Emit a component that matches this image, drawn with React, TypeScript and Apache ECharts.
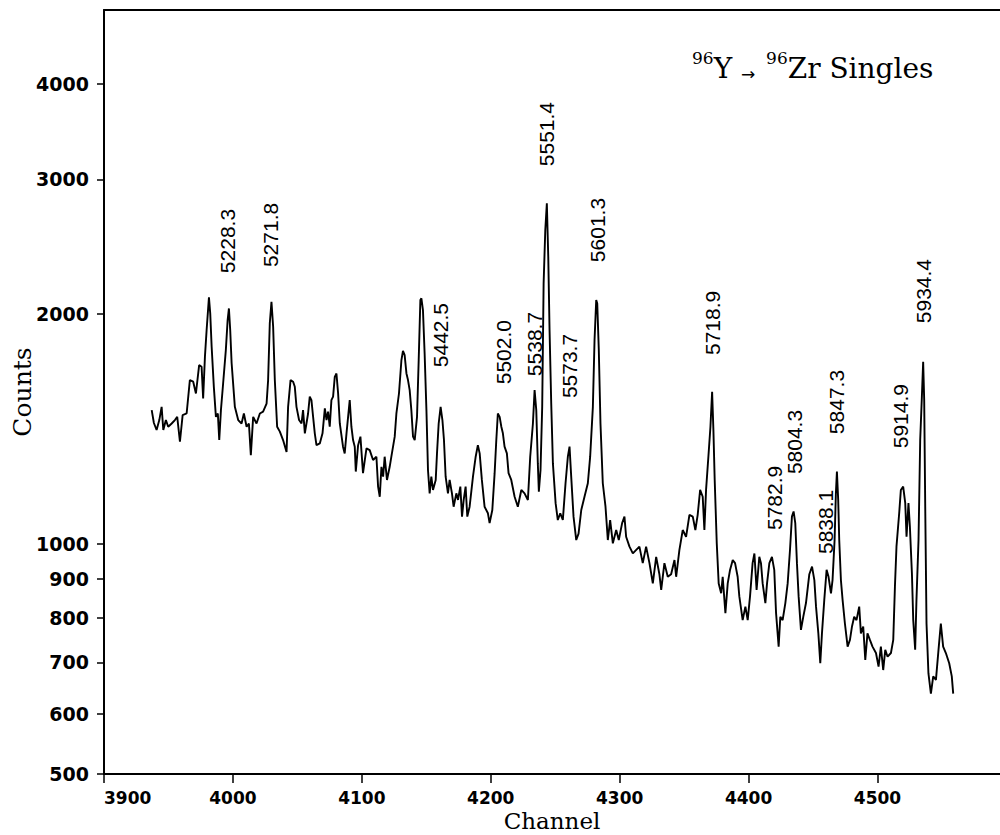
import React, { useEffect, useRef } from 'react';
import * as echarts from 'echarts';

const channels = [
  3937.0, 3938.7, 3940.8, 3942.9, 3944.7, 3946.0, 3948.0, 3949.8, 3952.5, 3955.0, 3956.8, 3958.9, 3961.0, 3964.1,
  3966.6, 3969.2, 3971.3, 3973.8, 3975.7, 3976.9, 3978.3, 3979.6, 3981.4, 3982.4, 3983.5, 3985.2, 3986.8, 3988.3,
  3989.4, 3990.7, 3992.4, 3994.5, 3995.9, 3996.9, 3997.9, 3999.0, 4001.5, 4004.1, 4006.7, 4008.5, 4010.6, 4012.4,
  4013.9, 4015.7, 4018.3, 4020.9, 4023.4, 4026.1, 4027.3, 4028.6, 4029.9, 4031.2, 4032.5, 4034.3, 4036.4, 4038.9,
  4041.6, 4042.8, 4044.7, 4046.7, 4048.0, 4049.3, 4051.3, 4053.2, 4054.4, 4055.8, 4058.3, 4059.6, 4060.9, 4062.2,
  4063.5, 4064.8, 4067.4, 4069.5, 4071.3, 4072.6, 4073.8, 4075.1, 4076.4, 4077.7, 4079.0, 4080.3,
  4081.6, 4082.9, 4085.4, 4086.7, 4088.1, 4090.6, 4091.9, 4093.2, 4094.5, 4095.3, 4097.1, 4098.9, 4100.9, 4102.3,
  4103.6, 4106.1, 4108.7, 4111.3, 4112.6, 4113.9, 4115.2, 4116.5, 4117.7, 4119.5, 4121.6, 4122.9, 4125.5, 4126.8,
  4128.8, 4130.7, 4131.9, 4133.2, 4134.6, 4135.8, 4137.1, 4138.4, 4139.7, 4141.0, 4142.8, 4144.1, 4145.4, 4146.2,
  4147.4, 4148.7, 4150.1, 4151.3, 4152.6, 4153.9, 4155.2, 4157.3, 4158.3, 4159.6, 4161.1, 4162.5, 4163.7, 4165.0,
  4166.8, 4168.1, 4169.9, 4171.2, 4173.3, 4174.6, 4176.4, 4177.7, 4179.0, 4180.5, 4181.8, 4183.6, 4186.2, 4188.3,
  4190.0, 4191.4, 4193.1, 4195.2, 4197.8, 4199.1, 4201.2, 4203.0, 4204.3, 4205.5, 4206.9, 4208.2, 4209.4, 4210.7,
  4212.5, 4213.8, 4215.9, 4218.5, 4221.0, 4223.7, 4226.2, 4228.8,
  4230.6, 4232.7, 4234.0, 4235.3, 4236.5, 4237.3, 4238.6, 4239.9, 4241.0, 4242.3, 4243.5, 4244.6, 4245.6, 4246.9,
  4248.2, 4250.3, 4252.0, 4253.9, 4255.9, 4258.0, 4259.8, 4261.1, 4262.4, 4264.2, 4266.3, 4268.1, 4270.2, 4272.7,
  4275.3, 4277.1, 4279.2, 4280.5, 4281.8, 4282.6, 4283.8, 4285.1, 4286.9, 4289.0, 4290.8, 4292.6, 4294.7, 4297.3,
  4299.3, 4301.9, 4303.7, 4305.0, 4307.6, 4310.2, 4315.3,
  4317.9, 4320.5, 4323.1, 4325.7, 4328.3, 4330.8, 4332.2, 4334.7, 4337.3, 4339.9, 4342.5, 4343.8, 4346.3, 4348.9,
  4351.5, 4354.1, 4356.7, 4358.7, 4360.5, 4362.4, 4364.4, 4365.7, 4367.0, 4368.8, 4370.4, 4371.7, 4372.7, 4373.7,
  4375.3, 4376.8, 4378.7, 4379.9, 4382.0, 4383.8, 4385.6, 4387.7, 4389.5, 4391.5, 4392.8, 4395.4, 4397.5, 4399.3,
  4401.1, 4403.1, 4404.5, 4406.2, 4408.3, 4409.6, 4410.9, 4413.0, 4414.3, 4416.1, 4418.1, 4419.9, 4421.3, 4423.3,
  4424.6, 4426.4, 4428.5, 4430.3, 4432.1, 4433.6, 4434.9, 4436.2, 4437.5, 4438.8, 4440.6, 4442.4, 4444.5,
  4447.1, 4449.2, 4451.0, 4452.3, 4454.1, 4455.6, 4456.9, 4458.7, 4460.5, 4462.0, 4463.9, 4465.1, 4466.7, 4467.7,
  4468.5, 4469.5, 4470.3, 4471.6, 4472.9, 4474.7, 4476.8, 4478.6, 4480.2, 4481.9, 4483.7, 4485.8, 4487.1, 4488.9,
  4490.5, 4492.2, 4494.1, 4496.1, 4498.8, 4500.8, 4502.6, 4504.4, 4506.0, 4507.8, 4510.4, 4512.2, 4513.5, 4514.7,
  4516.8, 4518.1, 4519.9, 4521.5, 4522.5, 4524.0, 4525.1, 4526.7, 4527.7, 4529.2, 4530.2, 4531.8, 4533.1, 4534.4,
  4535.4, 4536.2, 4537.0, 4538.0, 4539.5, 4541.4, 4543.2, 4545.3, 4547.3, 4549.1, 4550.9, 4553.0, 4555.6, 4557.6,
  4558.7,
];

const counts = [
  1497, 1440, 1410, 1453, 1512, 1410, 1453, 1424, 1438, 1453, 1467, 1361, 1475, 1482,
  1639, 1631, 1574, 1715, 1706, 1551, 1759, 1906, 2103, 2004, 1812, 1606, 1467, 1482,
  1368, 1497, 1622, 1794, 1964, 2034, 1906, 1724, 1512, 1453, 1438, 1482, 1424, 1438,
  1307, 1467, 1438, 1482, 1490, 1527, 1639, 1945, 2075, 1925, 1639, 1424, 1403, 1368,
  1320, 1512, 1639, 1631, 1606, 1512, 1453, 1438, 1497, 1396, 1482, 1559, 1543, 1467,
  1396, 1347, 1354, 1396, 1505, 1453, 1490, 1424, 1543, 1559, 1655, 1672,
  1574, 1438, 1341, 1314, 1396, 1543, 1424, 1368, 1341, 1244, 1347, 1382, 1238, 1288,
  1334, 1327, 1288, 1301, 1189, 1153, 1262, 1225, 1301, 1213, 1262, 1301, 1382, 1482,
  1574, 1741, 1790, 1767, 1672, 1639, 1590, 1497, 1382, 1368, 1467, 1741, 2086, 2097,
  2024, 1776, 1497, 1250, 1165, 1225, 1177, 1213, 1314, 1438, 1512, 1453, 1368, 1225,
  1165, 1213, 1165, 1119, 1165, 1142, 1189, 1086, 1142, 1189, 1086, 1119, 1225, 1301,
  1347, 1314, 1213, 1119, 1097, 1065, 1108, 1238, 1368, 1482, 1467, 1424, 1396, 1341,
  1314, 1238, 1213, 1153, 1119, 1177, 1165, 1142,
  1301, 1438, 1590, 1497, 1275, 1171, 1250, 1512, 2194, 2578, 2792, 2377, 1906, 1527,
  1275, 1131, 1075, 1097, 1075, 1201, 1301, 1341, 1225, 1086, 1012, 1032, 1108, 1153,
  1201, 1301, 1512, 1849, 2086, 2065, 1794, 1438, 1201, 1119, 1012, 1075, 1002, 1043,
  1012, 1065, 1086, 1022, 992, 972, 992,
  944, 992, 944, 888, 962, 913, 871, 944, 906, 913, 953, 906, 982, 1043,
  1022, 1092, 1086, 1043, 1092, 1177, 1153, 1043, 1177, 1301, 1424, 1582, 1410, 1213,
  1002, 888, 862, 906, 812, 888, 925, 953, 944, 906, 854, 795, 828, 795,
  854, 944, 972, 871, 962, 944, 888, 837, 888, 944, 962, 925, 812, 734,
  803, 795, 837, 888, 982, 1086, 1103, 1065, 944, 854, 772, 803, 837,
  913, 934, 897, 828, 764, 698, 764, 845, 925, 906, 862, 897, 1012, 1165,
  1244, 1142, 1012, 897, 845, 787, 734, 749, 780, 803, 795, 828, 764, 780,
  705, 764, 749, 734, 720, 691, 734, 684, 727, 712, 720, 749, 879, 992,
  1097, 1177, 1189, 1131, 1022, 1131, 1054, 913, 795, 727, 845, 1012, 1368, 1559,
  1732, 1543, 1119, 787, 677, 637, 671, 664, 727, 787, 734, 720, 698, 671,
  637,
];

const peakLabels = [
  '5228.3', '5271.8', '5442.5', '5502.0', '5538.7', '5551.4', '5573.7', '5601.3',
  '5718.9', '5782.9', '5804.3', '5838.1', '5847.3', '5914.9', '5934.4',
];
const peakLabelChannels = [
  3996.1, 4029.4, 4160.8, 4209.7, 4233.6, 4243.3, 4261.1, 4282.8,
  4371.9, 4420.0, 4435.5, 4459.9, 4468.4, 4518.0, 4535.8,
];
const peakLabelCounts = [
  2492, 2538, 1877, 1783, 1827, 3440, 1710, 2576,
  1947, 1149, 1360, 1069, 1534, 1470, 2143,
];

const yTickValues = [500, 600, 700, 800, 900, 1000, 2000, 3000, 4000];
const xMin = 3900;
const xMax = 4595;
const xInterval = 100;
const yMin = 500;
const yMax = 5000;

export default function App() {
  const ref = useRef<HTMLDivElement>(null);

  useEffect(() => {
    if (!ref.current) return;
    const chart = echarts.init(ref.current, null, { renderer: 'svg' });
    const axisLineStyle = { color: '#000', width: 2 };
    chart.setOption({
      animation: false,
      backgroundColor: '#fff',
      title: {
        text: '{sup|96}{m|Y }{ar|→  }{sup|96}{m|Zr Singles}',
        left: 692,
        top: 49,
        padding: 0,
        textStyle: {
          color: '#000',
          fontFamily: 'DejaVu Serif',
          fontWeight: 'normal',
          rich: {
            sup: { fontSize: 17, lineHeight: 16, verticalAlign: 'top', fontFamily: 'DejaVu Serif', color: '#000' },
            m: { fontSize: 28, lineHeight: 33, verticalAlign: 'bottom', fontFamily: 'DejaVu Serif', color: '#000' },
            ar: { fontSize: 17, lineHeight: 33, verticalAlign: 'bottom', fontFamily: 'DejaVu Sans', color: '#000' },
          },
        },
      },
      grid: { left: 104, right: 0, top: 10, bottom: 61, containLabel: false, outerBoundsMode: 'none' },
      xAxis: [
        {
          type: 'value',
          min: xMin,
          max: xMax,
          interval: xInterval,
          position: 'bottom',
          axisLine: { show: true, onZero: false, lineStyle: axisLineStyle },
          axisTick: { show: true, length: 9, lineStyle: { color: '#000', width: 1.5 } },
          axisLabel: {
            color: '#000',
            fontFamily: 'DejaVu Sans',
            fontWeight: 'bold',
            fontSize: 17,
            margin: 15,
            showMaxLabel: false,
            alignMinLabel: 'left',
            formatter: (v: number) => String(Math.round(v)),
          },
          splitLine: { show: false },
          name: 'Channel',
          nameLocation: 'middle',
          nameGap: 35,
          nameMoveOverlap: false,
          nameTextStyle: { fontFamily: 'DejaVu Serif', fontSize: 23, color: '#000', lineHeight: 23 },
        },
        {
          type: 'value',
          min: xMin,
          max: xMax,
          interval: xInterval,
          position: 'top',
          axisLine: { show: true, onZero: false, lineStyle: axisLineStyle },
          axisTick: { show: false },
          axisLabel: { show: false },
          splitLine: { show: false },
        },
      ],
      yAxis: {
        type: 'log',
        logBase: 10,
        min: yMin,
        max: yMax,
        axisLine: { show: true, onZero: false, lineStyle: axisLineStyle },
        axisTick: { show: true, length: 7, customValues: yTickValues, lineStyle: { color: '#000', width: 1.5 } },
        axisLabel: {
          show: true,
          customValues: yTickValues,
          formatter: (v: number) => String(Math.round(v)),
          color: '#000',
          fontFamily: 'DejaVu Sans',
          fontWeight: 'bold',
          fontSize: 19,
          margin: 15,
        },
        minorTick: { show: false },
        splitLine: { show: false },
        name: 'Counts',
        nameLocation: 'middle',
        nameRotate: 90,
        nameGap: 69,
        nameMoveOverlap: false,
        nameTextStyle: { fontFamily: 'DejaVu Serif', fontSize: 25, color: '#000', lineHeight: 25 },
      },
      series: [
        {
          type: 'line',
          data: channels.map((c, i) => [c, counts[i]]),
          showSymbol: false,
          symbol: 'none',
          lineStyle: { color: '#000', width: 1.9 },
          z: 2,
        },
        {
          type: 'scatter',
          data: peakLabels.map((t, i) => [peakLabelChannels[i], peakLabelCounts[i], t]),
          symbolSize: 1,
          itemStyle: { color: 'rgba(0,0,0,0)' },
          silent: true,
          label: {
            show: true,
            formatter: (p: any) => p.data[2],
            position: 'inside',
            rotate: 90,
            align: 'center',
            verticalAlign: 'middle',
            fontFamily: 'Liberation Sans',
            fontSize: 21,
            color: '#000',
            opacity: 1,
          },
          z: 3,
        },
      ],
    });
    return () => chart.dispose();
  }, []);

  return (
    <div
      ref={ref}
      style={{ position: 'fixed', left: 0, top: 0, width: 1000, height: 835, background: '#fff' }}
    />
  );
}
